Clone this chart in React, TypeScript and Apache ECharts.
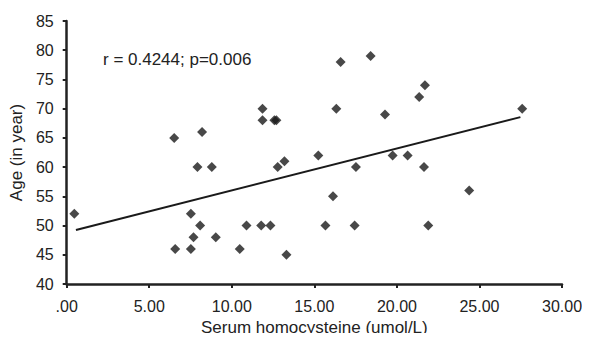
import React, { useEffect, useRef } from "react";
import * as echarts from "echarts";

const homocysteine = [
  0.46, 6.51, 6.57, 7.52, 7.52, 7.68, 7.92, 8.08, 8.2, 8.79, 9.03, 10.48, 10.89,
  11.78, 11.86, 11.86, 12.34, 12.58, 12.7, 12.78, 13.19, 13.31, 15.24, 15.67,
  16.13, 16.33, 16.59, 17.44, 17.52, 18.41, 19.28, 19.74, 20.65, 21.35, 21.64,
  21.7, 21.9, 24.38, 27.59,
];
const age = [
  52, 65, 46, 52, 46, 48, 60, 50, 66, 60, 48, 46, 50, 50, 70, 68, 50, 68, 68,
  60, 61, 45, 62, 50, 55, 70, 78, 50, 60, 79, 69, 62, 62, 72, 60, 74, 50, 56, 70,
];
const fitX = [0.56, 27.48];
const fitY = [49.25, 68.55];
const xTicks = [0, 5, 10, 15, 20, 25, 30];
const yTicks = [40, 45, 50, 55, 60, 65, 70, 75, 80, 85];
const annotation = "r = 0.4244; p=0.006";
const xTitle = "Serum homocysteine (umol/L)";
const yTitle = "Age (in year)";

export default function App() {
  const ref = useRef<HTMLDivElement>(null);
  useEffect(() => {
    if (!ref.current) return;
    const chart = echarts.init(ref.current, undefined, { renderer: "svg" });
    const font = "'Liberation Sans', Arial, sans-serif";
    const ink = "#222222";
    chart.setOption({
      animation: false,
      backgroundColor: "#ffffff",
      grid: { left: 66, right: 28, top: 21, bottom: 55, containLabel: false },
      xAxis: {
        type: "value",
        min: xTicks[0],
        max: xTicks[xTicks.length - 1],
        interval: 5,
        name: xTitle,
        nameLocation: "middle",
        nameGap: 35,
        nameTextStyle: { fontFamily: font, fontSize: 17, color: ink },
        axisLine: { show: true, lineStyle: { color: ink, width: 2.5 } },
        axisTick: { show: true, inside: false, length: 4, lineStyle: { color: ink, width: 2 } },
        axisLabel: {
          fontFamily: font,
          fontSize: 16,
          color: ink,
          margin: 14,
          formatter: (v: number) => (v === 0 ? ".00" : v.toFixed(2)),
        },
        splitLine: { show: false },
      },
      yAxis: {
        type: "value",
        min: yTicks[0],
        max: yTicks[yTicks.length - 1],
        interval: 5,
        name: yTitle,
        nameLocation: "middle",
        nameGap: 33,
        nameRotate: 90,
        nameTextStyle: { fontFamily: font, fontSize: 17, color: ink },
        axisLine: { show: true, lineStyle: { color: ink, width: 2.5 } },
        axisTick: { show: true, inside: false, length: 4, lineStyle: { color: ink, width: 2 } },
        axisLabel: { fontFamily: font, fontSize: 16, color: ink, margin: 13 },
        splitLine: { show: false },
      },
      graphic: [
        {
          type: "text",
          left: 103,
          top: 51,
          style: { text: annotation, fontFamily: font, fontSize: 17, fill: ink },
        },
      ],
      series: [
        {
          type: "scatter",
          symbol: "diamond",
          symbolSize: 10,
          itemStyle: { color: "#1a1a1a" },
          data: homocysteine.map((x, i) => [x, age[i]]),
          z: 3,
        },
        {
          type: "line",
          symbol: "none",
          lineStyle: { color: "#1a1a1a", width: 2 },
          data: fitX.map((x, i) => [x, fitY[i]]),
          z: 2,
        },
      ],
    });
    return () => chart.dispose();
  }, []);
  return <div ref={ref} style={{ width: 590, height: 341, margin: -8 }} />;
}
